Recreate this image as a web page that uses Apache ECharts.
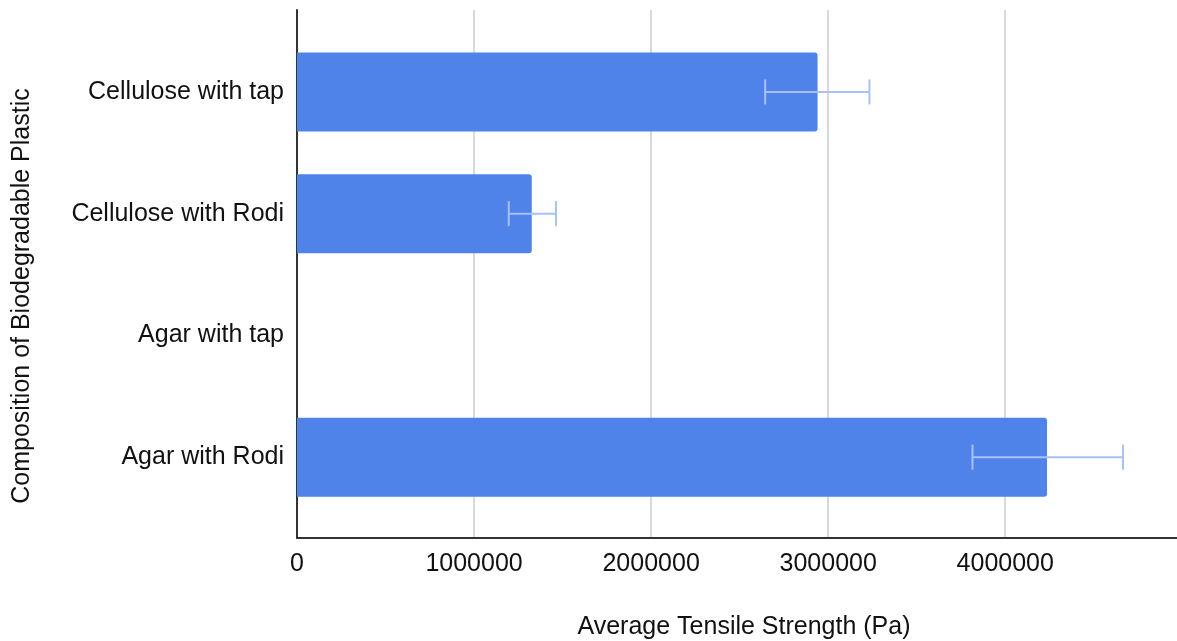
<!DOCTYPE html>
<html>
<head>
<meta charset="utf-8">
<script src="https://cdn.jsdelivr.net/npm/echarts@6/dist/echarts.min.js"></script>
<style>
html,body{margin:0;padding:0;background:#fff;}
#chart{width:1177px;height:641px;}
</style>
</head>
<body>
<div id="chart"></div>
<script>
const categories = ["Cellulose with tap", "Cellulose with Rodi", "Agar with tap", "Agar with Rodi"];
const strengthValues = [2940000, 1326000, 0, 4236000];
const errorLow = [2644000, 1196000, null, 3815000];
const errorHigh = [3233000, 1463000, null, 4665000];
const xTickValues = [0, 1000000, 2000000, 3000000, 4000000];
const xMax = 4970000;

const FONT = '"Liberation Sans", Arial, sans-serif';
const TEXT = '#111111';
const chart = echarts.init(document.getElementById('chart'), null, {renderer: 'canvas'});

const errorData = [];
categories.forEach((c, i) => {
  if (errorLow[i] != null && errorHigh[i] != null) errorData.push([errorLow[i], errorHigh[i], i]);
});

chart.setOption({
  animation: false,
  backgroundColor: '#ffffff',
  grid: [
    {left: 297, right: 0, top: 10, bottom: 103, containLabel: false, outerBoundsMode: 'none'},
    {left: 297, right: 0, top: 31, bottom: 123, containLabel: false, outerBoundsMode: 'none'}
  ],
  xAxis: [
    {
      gridIndex: 0, type: 'value', min: 0, max: xMax, interval: 1000000,
      axisLine: {show: true, onZero: false, lineStyle: {color: '#333333', width: 2}},
      axisTick: {show: false},
      splitLine: {show: true, showMaxLine: false, lineStyle: {color: '#cccccc', width: 1.5}},
      axisLabel: {
        show: true, margin: 14, color: TEXT,
        fontFamily: FONT, fontSize: 25,
        formatter: v => (xTickValues.indexOf(v) >= 0 ? String(v) : '')
      },
      name: 'Average Tensile Strength (Pa)', nameLocation: 'middle', nameGap: 77,
      nameTextStyle: {color: TEXT, fontFamily: FONT, fontSize: 25, padding: [0, 0, 0, 14]}
    },
    {
      gridIndex: 1, type: 'value', min: 0, max: xMax, show: false,
      splitLine: {show: false}
    }
  ],
  yAxis: [
    {
      gridIndex: 0, type: 'value', min: 0, max: 1,
      axisLine: {show: true, onZero: false, lineStyle: {color: '#333333', width: 2}},
      axisTick: {show: false}, axisLabel: {show: false}, splitLine: {show: false},
      name: 'Composition of Biodegradable Plastic', nameLocation: 'middle', nameGap: 262,
      nameTextStyle: {color: TEXT, fontFamily: FONT, fontSize: 25, padding: [0, 44, 0, 0]}
    },
    {
      gridIndex: 1, type: 'category', data: categories, inverse: true,
      axisLine: {show: false}, axisTick: {show: false}, splitLine: {show: false},
      axisLabel: {margin: 13, color: TEXT, fontFamily: FONT, fontSize: 25}
    }
  ],
  series: [
    {
      type: 'bar', xAxisIndex: 1, yAxisIndex: 1,
      data: strengthValues, barWidth: 79,
      itemStyle: {color: '#4f83ea', borderRadius: [0, 3, 3, 0]}
    },
    {
      type: 'custom', xAxisIndex: 1, yAxisIndex: 1,
      data: errorData,
      encode: {x: [0, 1], y: 2},
      z: 10,
      renderItem: function (params, api) {
        const lo = api.coord([api.value(0), api.value(2)]);
        const hi = api.coord([api.value(1), api.value(2)]);
        const h = 12.5;
        const style = {stroke: '#a9c1f6', lineWidth: 2, fill: null};
        return {
          type: 'group',
          children: [
            {type: 'line', shape: {x1: lo[0], y1: lo[1], x2: hi[0], y2: hi[1]}, style: style},
            {type: 'line', shape: {x1: lo[0], y1: lo[1] - h, x2: lo[0], y2: lo[1] + h}, style: style},
            {type: 'line', shape: {x1: hi[0], y1: hi[1] - h, x2: hi[0], y2: hi[1] + h}, style: style}
          ]
        };
      }
    }
  ]
});
</script>
</body>
</html>
